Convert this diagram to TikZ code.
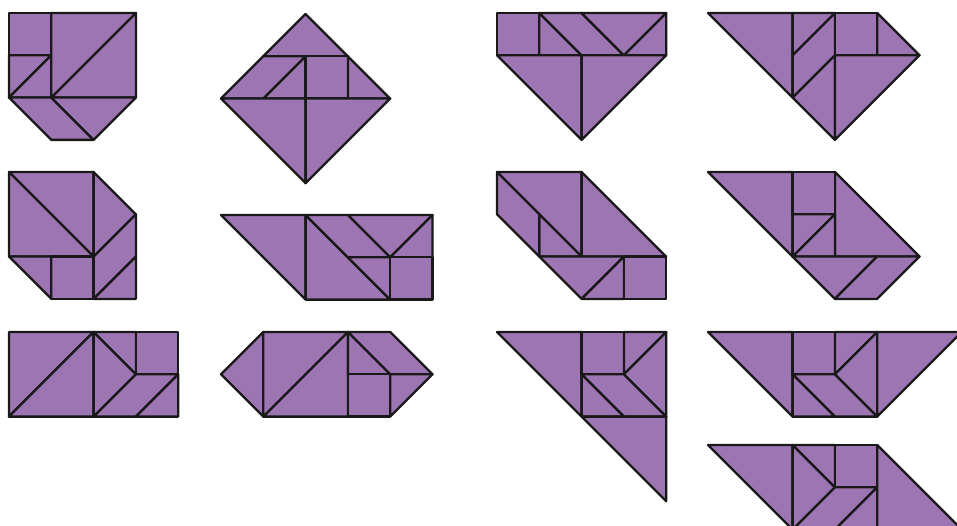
\documentclass[tikz,border=0pt]{standalone}
\definecolor{tan}{RGB}{158,117,179}
\tikzset{pc/.style={fill=tan,draw=black!90,line width=2.3pt,line join=round},
  tg/.style={x=42.3pt,y=-42.3pt}}
\begin{document}
\begin{tikzpicture}
\useasboundingbox (0pt,0pt) rectangle (957pt,-526pt);
% shape 1
\begin{scope}[shift={(9pt,-13pt)},tg]
\draw[pc] (0,0)--(1,0)--(1,1)--(0,1)--cycle;
\draw[pc] (0,1)--(1,1)--(0,2)--cycle;
\draw[pc] (0,2)--(1,1)--(1,2)--cycle;
\draw[pc] (1,0)--(3,0)--(1,2)--cycle;
\draw[pc] (3,0)--(3,2)--(1,2)--cycle;
\draw[pc] (0,2)--(1,2)--(2,3)--(1,3)--cycle;
\draw[pc] (1,2)--(3,2)--(2,3)--cycle;
\end{scope}
% shape 2
\begin{scope}[shift={(221pt,-14pt)},tg]
\draw[pc] (2,0)--(1,1)--(3,1)--cycle;
\draw[pc] (1,1)--(2,1)--(1,2)--(0,2)--cycle;
\draw[pc] (2,1)--(2,2)--(1,2)--cycle;
\draw[pc] (2,1)--(3,1)--(3,2)--(2,2)--cycle;
\draw[pc] (3,1)--(4,2)--(3,2)--cycle;
\draw[pc] (0,2)--(2,2)--(2,4)--cycle;
\draw[pc] (2,2)--(4,2)--(2,4)--cycle;
\end{scope}
% shape 3
\begin{scope}[shift={(497pt,-13pt)},tg]
\draw[pc] (0,0)--(1,0)--(1,1)--(0,1)--cycle;
\draw[pc] (1,0)--(2,1)--(1,1)--cycle;
\draw[pc] (1,0)--(2,0)--(3,1)--(2,1)--cycle;
\draw[pc] (2,0)--(4,0)--(3,1)--cycle;
\draw[pc] (3,1)--(4,0)--(4,1)--cycle;
\draw[pc] (0,1)--(2,1)--(2,3)--cycle;
\draw[pc] (2,1)--(4,1)--(2,3)--cycle;
\end{scope}
% shape 4
\begin{scope}[shift={(708pt,-13pt)},tg]
\draw[pc] (0,0)--(2,0)--(2,2)--cycle;
\draw[pc] (2,0)--(3,0)--(2,1)--cycle;
\draw[pc] (2,1)--(3,0)--(3,1)--(2,2)--cycle;
\draw[pc] (3,0)--(4,0)--(4,1)--(3,1)--cycle;
\draw[pc] (4,0)--(5,1)--(4,1)--cycle;
\draw[pc] (2,2)--(3,1)--(3,3)--cycle;
\draw[pc] (3,1)--(5,1)--(3,3)--cycle;
\end{scope}
% shape 5
\begin{scope}[shift={(9pt,-172pt)},tg]
\draw[pc] (0,0)--(2,0)--(2,2)--cycle;
\draw[pc] (0,0)--(2,2)--(0,2)--cycle;
\draw[pc] (2,0)--(3,1)--(2,2)--cycle;
\draw[pc] (2,2)--(3,1)--(3,2)--(2,3)--cycle;
\draw[pc] (2,3)--(3,2)--(3,3)--cycle;
\draw[pc] (1,2)--(2,2)--(2,3)--(1,3)--cycle;
\draw[pc] (0,2)--(1,2)--(1,3)--cycle;
\end{scope}
% shape 6
\begin{scope}[shift={(221pt,-215pt)},tg]
\draw[pc] (0,0)--(2,0)--(2,2)--cycle;
\draw[pc] (2,0)--(4,2)--(2,2)--cycle;
\draw[pc] (2,0)--(3,0)--(4,1)--(3,1)--cycle;
\draw[pc] (3,0)--(5,0)--(4,1)--cycle;
\draw[pc] (4,1)--(5,0)--(5,1)--cycle;
\draw[pc] (3,1)--(4,1)--(4,2)--cycle;
\draw[pc] (4,1)--(5,1)--(5,2)--(4,2)--cycle;
\end{scope}
% shape 7
\begin{scope}[shift={(497pt,-172pt)},tg]
\draw[pc] (0,0)--(2,0)--(2,2)--cycle;
\draw[pc] (2,0)--(4,2)--(2,2)--cycle;
\draw[pc] (1,1)--(2,2)--(1,2)--cycle;
\draw[pc] (0,0)--(1,1)--(1,2)--(0,1)--cycle;
\draw[pc] (1,2)--(3,2)--(2,3)--cycle;
\draw[pc] (2,3)--(3,2)--(3,3)--cycle;
\draw[pc] (3,2)--(4,2)--(4,3)--(3,3)--cycle;
\end{scope}
% shape 8
\begin{scope}[shift={(708pt,-172pt)},tg]
\draw[pc] (0,0)--(2,0)--(2,2)--cycle;
\draw[pc] (3,0)--(5,2)--(3,2)--cycle;
\draw[pc] (2,0)--(3,0)--(3,1)--(2,1)--cycle;
\draw[pc] (2,1)--(3,1)--(2,2)--cycle;
\draw[pc] (3,1)--(3,2)--(2,2)--cycle;
\draw[pc] (2,2)--(4,2)--(3,3)--cycle;
\draw[pc] (4,2)--(5,2)--(4,3)--(3,3)--cycle;
\end{scope}
% shape 9
\begin{scope}[shift={(9pt,-332pt)},tg]
\draw[pc] (0,0)--(2,0)--(0,2)--cycle;
\draw[pc] (2,0)--(2,2)--(0,2)--cycle;
\draw[pc] (2,0)--(3,0)--(3,1)--cycle;
\draw[pc] (3,0)--(4,0)--(4,1)--(3,1)--cycle;
\draw[pc] (2,0)--(3,1)--(2,2)--cycle;
\draw[pc] (2,2)--(3,1)--(4,1)--(3,2)--cycle;
\draw[pc] (3,2)--(4,1)--(4,2)--cycle;
\end{scope}
% shape 10
\begin{scope}[shift={(221pt,-332pt)},tg]
\draw[pc] (0,1)--(1,0)--(1,2)--cycle;
\draw[pc] (1,0)--(3,0)--(1,2)--cycle;
\draw[pc] (3,0)--(3,2)--(1,2)--cycle;
\draw[pc] (3,0)--(4,1)--(3,1)--cycle;
\draw[pc] (3,0)--(4,0)--(5,1)--(4,1)--cycle;
\draw[pc] (3,1)--(4,1)--(4,2)--(3,2)--cycle;
\draw[pc] (4,1)--(5,1)--(4,2)--cycle;
\end{scope}
% shape 11
\begin{scope}[shift={(497pt,-332pt)},tg]
\draw[pc] (0,0)--(2,0)--(2,2)--cycle;
\draw[pc] (2,0)--(3,0)--(3,1)--(2,1)--cycle;
\draw[pc] (3,0)--(4,0)--(3,1)--cycle;
\draw[pc] (3,1)--(4,0)--(4,2)--cycle;
\draw[pc] (2,1)--(3,1)--(4,2)--(3,2)--cycle;
\draw[pc] (2,1)--(3,2)--(2,2)--cycle;
\draw[pc] (2,2)--(4,2)--(4,4)--cycle;
\end{scope}
% shape 12
\begin{scope}[shift={(708pt,-332pt)},tg]
\draw[pc] (0,0)--(2,0)--(2,2)--cycle;
\draw[pc] (2,0)--(3,0)--(3,1)--(2,1)--cycle;
\draw[pc] (3,0)--(4,0)--(3,1)--cycle;
\draw[pc] (3,1)--(4,0)--(4,2)--cycle;
\draw[pc] (2,1)--(3,1)--(4,2)--(3,2)--cycle;
\draw[pc] (2,1)--(3,2)--(2,2)--cycle;
\draw[pc] (4,0)--(6,0)--(4,2)--cycle;
\end{scope}
% shape 13
\begin{scope}[shift={(708pt,-445pt)},tg]
\draw[pc] (0,0)--(2,0)--(2,2)--cycle;
\draw[pc] (2,0)--(3,0)--(3,1)--cycle;
\draw[pc] (3,0)--(4,0)--(4,1)--(3,1)--cycle;
\draw[pc] (2,0)--(3,1)--(2,2)--cycle;
\draw[pc] (2,2)--(3,1)--(4,1)--(3,2)--cycle;
\draw[pc] (3,2)--(4,1)--(4,2)--cycle;
\draw[pc] (4,0)--(6,2)--(4,2)--cycle;
\end{scope}
\end{tikzpicture}
\end{document}
